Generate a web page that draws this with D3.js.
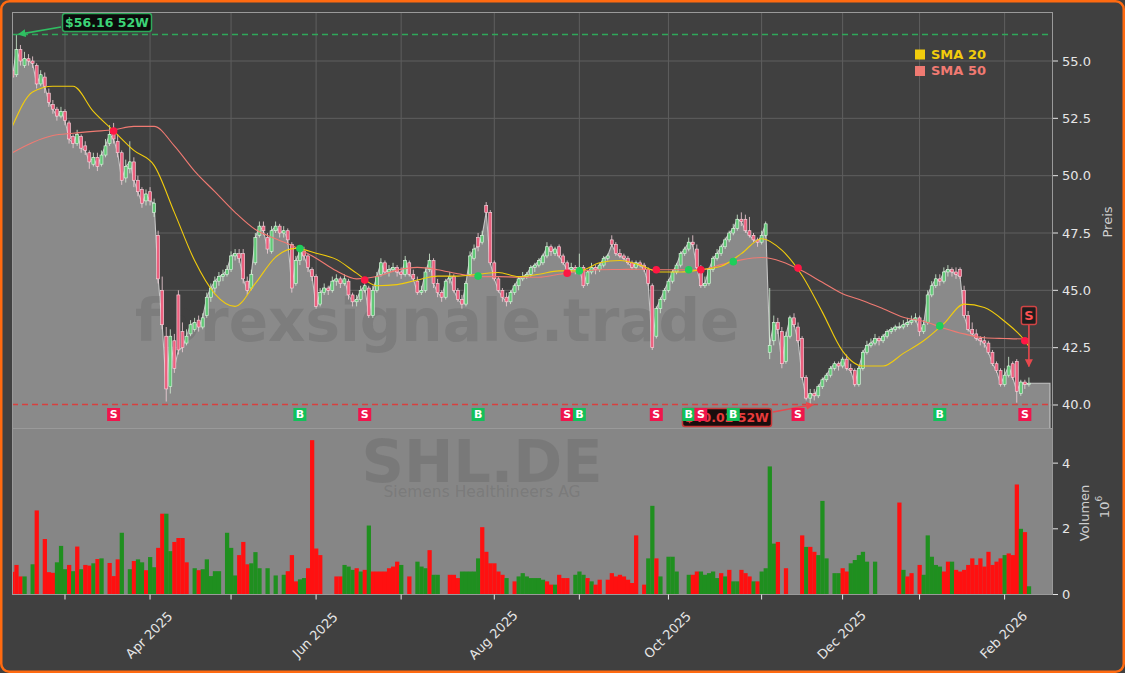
<!DOCTYPE html>
<html><head><meta charset="utf-8">
<script src="https://cdn.jsdelivr.net/npm/d3@7"></script>
<style>
html,body{margin:0;padding:0;background:#404040;}
svg{display:block;font-family:"DejaVu Sans",sans-serif;}
</style></head><body>
<svg id="chart" width="1125" height="673"></svg>
<script>
// ---------------- DATA ----------------
const ticker = "SHL.DE";
const companyName = "Siemens Healthineers AG";
const watermark = "forexsignale.trade";
const startDate = "2025-02-12";
const holidays = ["2025-04-18","2025-04-21","2025-05-01","2025-12-24","2025-12-25","2025-12-26","2025-12-31","2026-01-01"];
const priceTicks = [40.0, 42.5, 45.0, 47.5, 50.0, 52.5, 55.0];
const volumeTicks = [0, 2, 4];
const legendLabels = ["SMA 20", "SMA 50"];

const closes = [54.3,55.5,55.0,55.1,55.0,54.9,54.0,54.4,53.9,53.2,
52.9,52.6,52.8,52.4,51.6,51.4,51.8,51.2,51.1,50.6,
50.8,50.4,50.9,51.3,51.8,51.6,51.0,49.8,50.4,50.6,
49.8,49.3,48.8,49.2,48.9,48.8,45.5,43.5,40.7,43.0,
41.6,42.4,42.5,43.0,43.5,43.6,43.4,43.8,44.7,45.1,
45.4,45.6,45.7,45.9,46.5,46.6,46.4,45.5,45.0,45.7,
47.3,47.8,47.6,46.8,47.6,47.8,47.5,47.6,47.2,45.1,
46.3,46.7,46.5,46.0,45.6,44.3,44.9,45.1,45.0,45.4,
45.5,45.3,45.5,44.8,44.5,44.6,45.0,45.2,43.9,45.0,
45.6,46.2,45.8,45.9,46.0,45.8,45.7,46.3,45.7,45.5,
44.9,45.0,45.8,46.3,45.3,44.9,44.7,45.4,45.6,45.0,
44.6,44.4,45.3,46.5,46.8,46.9,47.4,48.4,46.2,45.5,
45.0,44.7,44.5,44.9,45.2,45.5,45.6,45.7,46.0,46.1,
46.3,46.5,46.9,46.7,46.8,46.5,46.2,45.9,46.0,45.9,
46.0,45.2,45.8,46.0,45.9,46.1,46.4,46.5,47.0,46.6,
46.5,46.4,46.2,46.0,46.2,46.1,45.9,45.3,42.5,44.2,
44.6,45.0,45.4,45.8,46.1,46.6,46.8,47.1,47.0,46.0,
45.2,45.3,45.9,46.4,46.6,46.9,47.2,47.5,47.7,48.1,
48.0,47.6,47.4,47.2,47.1,47.4,47.9,42.6,43.6,43.3,
41.8,43.0,43.8,43.5,42.8,41.2,40.3,40.5,40.4,40.8,
41.1,41.3,41.6,41.8,41.7,42.0,41.6,41.5,40.9,41.6,
42.3,42.6,42.7,42.9,42.8,43.0,43.2,43.3,43.4,43.4,
43.5,43.6,43.7,43.8,43.2,43.5,44.8,45.2,45.5,45.4,
45.8,45.9,45.8,45.7,45.6,43.9,43.3,43.1,42.9,42.8,
42.7,42.3,41.8,41.5,40.9,41.3,41.7,41.2,40.6,41.0,
40.9,40.95];

const opens = [54.6,54.4,55.5,54.8,55.1,55.0,54.8,54.0,54.3,53.6,
53.1,52.9,52.6,52.8,52.3,51.7,51.4,51.7,51.3,51.0,
50.5,50.8,50.5,50.9,51.4,52.0,51.5,51.0,49.9,50.3,
50.6,49.8,49.4,48.9,49.3,48.4,47.4,45.0,43.0,40.8,
42.8,44.8,43.2,42.7,43.1,43.3,43.7,43.4,43.9,44.7,
45.1,45.4,45.6,45.7,45.9,46.5,46.6,46.6,45.4,45.1,
46.2,47.4,47.8,47.3,46.7,47.6,47.8,47.5,47.6,47.0,
45.3,46.3,46.7,46.5,45.9,45.6,44.4,44.9,45.1,45.0,
45.4,45.5,45.3,45.4,44.8,44.5,44.6,45.0,45.1,43.9,
45.0,45.7,46.2,45.8,45.9,46.0,45.8,45.7,46.2,45.7,
45.4,44.9,45.0,45.9,46.3,45.3,44.9,44.7,45.5,45.6,
45.0,44.6,44.4,45.7,46.4,47.3,47.1,48.7,48.4,46.2,
45.5,45.0,44.7,44.5,44.9,45.2,45.5,45.6,45.7,46.0,
46.1,46.2,46.5,46.9,46.6,46.9,46.5,46.2,45.9,46.0,
45.8,46.0,45.3,45.8,46.0,45.9,46.1,46.4,47.2,47.0,
46.6,46.5,46.4,46.2,46.0,46.2,46.1,45.9,45.2,43.0,
44.2,44.6,45.0,45.4,45.8,46.1,46.6,46.8,47.1,46.8,
46.0,45.2,45.3,45.9,46.4,46.6,46.9,47.2,47.5,47.7,
48.1,48.1,47.6,47.4,47.2,47.1,47.4,42.3,42.8,43.6,
43.2,41.9,43.0,43.8,43.4,42.9,41.2,40.3,40.5,40.4,
40.8,41.1,41.3,41.6,41.8,41.7,42.0,41.6,41.5,40.9,
41.6,42.3,42.6,42.7,42.9,42.8,43.0,43.2,43.3,43.4,
43.4,43.5,43.6,43.7,43.8,43.2,43.6,44.8,45.2,45.5,
45.4,45.8,45.9,45.8,45.9,45.0,43.9,43.3,43.1,42.9,
42.8,42.7,42.3,41.8,41.5,40.9,41.3,41.8,41.9,40.5,
41.0,40.9];

const highs = [54.9,56.16,55.7,55.4,55.3,55.2,54.9,54.6,54.5,53.8,
53.3,53.0,53.0,52.9,52.4,51.8,52.0,51.8,51.5,51.1,
51.0,51.0,51.1,51.6,52.2,52.3,51.8,51.1,50.7,51.5,
50.8,50.0,49.5,49.4,49.5,49.0,47.6,45.6,43.4,43.3,
43.1,45.0,43.6,43.3,43.7,43.8,43.9,44.0,44.9,45.3,
45.6,45.8,45.9,46.1,46.7,46.8,46.8,46.8,45.6,45.9,
47.5,48.0,48.0,47.5,47.8,48.0,47.9,47.8,47.7,47.1,
46.5,46.9,46.9,46.6,46.0,45.7,45.1,45.3,45.2,45.6,
45.7,45.6,45.7,45.5,44.9,44.8,45.2,45.4,45.2,45.2,
45.8,46.4,46.3,46.1,46.2,46.1,46.0,46.5,46.3,45.9,
45.6,45.2,46.0,46.6,46.4,45.5,45.0,45.5,45.8,45.7,
45.1,44.8,45.4,46.7,47.0,47.5,47.6,48.85,48.5,46.3,
45.6,45.1,44.9,45.0,45.3,45.6,45.8,45.8,46.1,46.2,
46.4,46.6,47.1,47.0,46.9,47.0,46.6,46.3,46.2,46.1,
46.6,46.1,45.9,46.2,46.1,46.2,46.5,46.6,47.4,47.1,
46.8,46.6,46.5,46.3,46.3,46.3,46.2,46.0,45.3,44.3,
44.7,45.1,45.5,45.9,46.2,46.7,46.9,47.3,47.4,47.0,
46.1,45.6,46.0,46.5,46.8,47.0,47.3,47.6,47.9,48.3,
48.4,48.3,48.2,47.5,47.3,47.6,48.0,45.1,43.9,43.8,
43.4,43.2,43.9,44.0,43.6,43.0,41.3,40.7,40.7,40.9,
41.2,41.4,41.7,41.9,41.9,42.1,42.2,41.8,41.6,41.7,
42.4,42.8,42.9,43.1,43.0,43.1,43.3,43.4,43.5,43.6,
43.7,43.8,43.9,44.0,43.9,43.7,45.0,45.4,45.7,45.7,
46.0,46.1,46.0,46.0,46.0,45.2,44.1,43.6,43.3,43.0,
43.0,42.8,42.4,41.9,41.6,41.6,42.1,41.9,42.0,41.1,
41.1,41.2];

const lows = [54.1,54.3,54.8,54.7,54.8,54.7,53.8,53.9,53.6,53.0,
52.7,52.4,52.5,52.2,51.4,51.2,51.3,51.0,50.9,50.3,
50.4,50.2,50.4,50.8,51.3,51.4,50.8,49.6,49.7,50.1,
49.5,49.1,48.6,48.7,48.7,48.2,45.3,43.3,40.15,40.5,
41.4,42.2,42.3,42.6,43.0,43.2,43.2,43.3,43.8,44.5,
44.9,45.2,45.4,45.6,45.8,46.3,46.2,45.3,44.8,45.0,
46.1,47.3,47.4,46.6,46.6,47.5,47.3,47.3,47.0,44.9,
45.2,46.1,46.3,45.8,45.4,44.2,44.3,44.8,44.8,44.9,
45.2,45.1,45.2,44.6,44.3,44.3,44.5,44.9,43.8,43.8,
44.9,45.6,45.7,45.6,45.8,45.6,45.5,45.6,45.6,45.4,
44.8,44.8,44.9,45.8,45.1,44.7,44.5,44.6,45.3,44.9,
44.5,44.2,44.3,45.6,46.3,46.7,47.0,48.3,46.1,45.4,
44.9,44.5,44.3,44.4,44.8,45.0,45.4,45.5,45.6,45.8,
46.0,46.1,46.4,46.5,46.5,46.4,46.1,45.8,45.8,45.7,
45.7,45.1,45.2,45.7,45.7,45.8,46.0,46.3,46.9,46.5,
46.4,46.3,46.1,45.9,45.9,46.0,45.8,45.2,42.4,42.9,
44.0,44.5,44.9,45.3,45.7,46.0,46.5,46.7,46.9,45.9,
45.1,45.1,45.2,45.8,46.3,46.5,46.8,47.1,47.4,47.6,
47.8,47.5,47.3,47.1,46.9,47.0,47.3,42.0,42.6,43.1,
41.6,41.8,42.9,43.4,42.7,41.1,40.2,40.02,40.2,40.3,
40.7,41.0,41.2,41.5,41.5,41.6,41.5,41.4,40.8,40.8,
41.5,42.2,42.5,42.6,42.6,42.7,42.9,43.1,43.2,43.3,
43.3,43.4,43.5,43.6,43.0,43.1,43.5,44.7,45.1,45.2,
45.3,45.6,45.6,45.5,45.5,43.8,43.2,43.0,42.8,42.6,
42.5,42.2,41.7,41.4,40.8,40.8,41.2,41.1,40.1,40.4,
40.7,40.8];

// volume in millions, direction: r = down (red), g = up (green), - = none
const volumes = [0.69,0.9,0.55,0.55,0,0.92,2.56,0,1.69,0.68,
0.66,0.98,1.48,0.77,0.9,0.71,1.46,0.77,0.9,0.88,
0.95,1.08,1.1,0,0.96,0.56,1.07,1.88,0,0.77,
1.02,1.07,0.98,0.74,1.14,0.83,1.42,2.46,2.46,1.32,
1.6,1.72,1.72,0.98,0,0.8,0.74,0.77,1.07,0.56,
0.71,0.71,0,1.88,1.42,0.58,1.2,1.6,0.92,0.95,
1.29,0.8,0,0.8,0,0.58,0,0.6,0.71,1.2,
0.4,0.46,0.5,0.8,4.7,1.4,1.2,0,0,0,
0.55,0.55,0.9,0.85,0.75,0.8,0.7,0.75,2.1,0.7,
0.7,0.7,0.7,0.8,0.85,1.0,0.9,0,0.55,0,
1.0,0.85,0.8,1.35,0.6,0.6,0,0,0.6,0.6,
0.5,0.7,0.7,0.7,0.7,1.1,2.05,1.3,0.95,0.95,
0.7,0.6,0.5,0,0.4,0.55,0.65,0.55,0.5,0.5,
0.5,0.45,0.4,0.3,0.3,0.6,0.5,0.5,0,0.6,
0.7,0.6,0.5,0.4,0.3,0.45,0,0.45,0.65,0.55,
0.6,0.55,0.45,0.35,1.8,0,0.3,1.1,2.7,1.1,
0.55,0,1.15,1.15,0.7,0,0,0.6,0.6,0.7,
0.7,0.6,0.65,0.7,0.5,0.65,0.55,0.75,0.4,0.4,
0.75,0.65,0.55,0.4,0.4,0.7,0.8,3.9,1.55,1.6,
0,0.8,0,0,0,1.8,1.45,1.45,1.3,1.2,
2.85,1.1,0,0.65,0.65,0.8,0.7,0.95,1.05,1.2,
1.3,1.0,0,1.0,0,0,0,0,0,2.8,
0.75,0.55,0.65,0,0.9,0.6,1.8,1.15,0.9,0.85,
0.7,1.0,1.0,0.75,0.7,0.75,0.9,1.1,0.9,1.1,
0.85,1.3,0.9,1.0,1.1,1.2,1.25,1.2,3.35,2.0,
1.9,0.25];
const volumeDir =
 "rrrg-gr-rr"+"rgggrgrgrr"+"grg-rrrg-g"+"rggrggrrgg"+"rrrr-grggg"+
 "gg-gggrrrg"+"gg-g-g-grr"+"rggrrrr---"+"rrgggrgrgr"+"rrrrrrg-r-"+
 "gggrgg--rr"+"rgggggrrrr"+"rrg-rggggg"+"ggrrgrrr-g"+"ggrgrr-rrr"+
 "rrrrr-rggr"+"g-ggg--grr"+"gggggrgrgg"+"rrrgrggggr"+"-r---rgrrg"+
 "gg-ggrrggg"+"gg-g-----r"+"grr-rggggg"+"rrgrrrrrrr"+"rrrrrgrrrg"+"rg";

// SMA values at every 5th trading day (index), plus last day
const smaIndex = [0,5,10,15,20,25,30,35,40,45,50,55,60,65,70,75,80,85,90,95,100,105,110,115,120,125,130,135,140,145,150,155,160,165,170,175,180,185,190,195,200,205,210,215,220,225,230,235,240,245,250,251];
const sma20 = [52.15,53.65,53.9,53.9,52.8,51.95,51.1,50.45,48.4,46.3,44.85,44.3,45.3,46.45,46.83,46.62,46.35,45.75,45.2,45.25,45.45,45.62,45.62,45.7,45.78,45.6,45.7,45.85,45.85,46.2,46.3,46.1,45.8,45.8,45.9,46.05,46.6,47.25,46.75,45.65,44.05,42.35,41.7,41.7,42.25,42.8,43.55,44.4,44.25,43.65,42.8,42.55];
const sma50 = [51.0,51.45,51.75,51.85,51.93,52.0,52.15,52.15,51.3,50.2,49.3,48.4,47.65,47.25,46.87,46.4,45.85,45.5,45.6,45.88,46.0,45.9,45.72,45.6,45.6,45.57,45.57,45.7,45.82,45.9,45.91,45.92,45.9,45.9,45.9,46.12,46.33,46.43,46.25,45.85,45.35,44.85,44.55,44.2,43.83,43.65,43.35,43.1,42.93,42.9,42.88,42.88];

// crossover signals (trading-day index, type, price at crossing)
const signalIndex = [25,71,87,115,137,140,159,167,170,178,194,229,250];
const signalType  = ["S","B","S","B","S","B","S","B","S","B","S","B","S"];
const signalPrice = [51.95,46.82,45.45,45.62,45.75,45.85,45.9,45.9,45.9,46.25,45.97,43.45,42.8];
const finalSignal = "S";

// ---------------- LAYOUT ----------------
const W = 1125, H = 673;
const left = 12, right = 1053, pTop = 12, pBot = 428, vTop = 428, vBot = 594.5;
const svg = d3.select("#chart");
const N = closes.length;

function tradingDates(start, n, hol){
  const out=[]; const d=new Date(start+"T12:00:00Z");
  while(out.length<n){
    const wd=d.getUTCDay(); const s=d.toISOString().slice(0,10);
    if(wd!==0 && wd!==6 && !hol.includes(s)) out.push(new Date(d));
    d.setUTCDate(d.getUTCDate()+1);
  }
  return out;
}
const dates = tradingDates(startDate, N, holidays);

const x = d3.scaleLinear().domain([-0.086, 256.95]).range([left, right]);
const y = d3.scaleLinear().domain([38.997, 57.137]).range([pBot, pTop]);
const yv = d3.scaleLinear().domain([0, 5.07]).range([vBot, vTop]);

const defs = svg.append("defs");
defs.append("clipPath").attr("id","pclip").append("rect").attr("x",left).attr("y",pTop).attr("width",right-left).attr("height",pBot-pTop);
defs.append("clipPath").attr("id","vclip").append("rect").attr("x",left).attr("y",vTop).attr("width",right-left).attr("height",vBot-vTop);
function arrowMarker(id,color){
  defs.append("marker").attr("id",id).attr("viewBox","0 0 10 10").attr("refX",9).attr("refY",5)
    .attr("markerWidth",5).attr("markerHeight",5).attr("orient","auto-start-reverse")
    .append("path").attr("d","M0,0 L10,5 L0,10 z").attr("fill",color);
}
arrowMarker("arrG","#2fbf62");
arrowMarker("arrR","#e8484d");

svg.append("rect").attr("width",W).attr("height",H).attr("fill","#404040");

const monthTicks = [];
for(let i=1;i<N;i++){ if(dates[i].getUTCMonth()!==dates[i-1].getUTCMonth()) monthTicks.push(i); }

// ---------------- PRICE PANEL ----------------
const pg = svg.append("g").attr("clip-path","url(#pclip)");
pg.selectAll(".hg").data(priceTicks).join("line")
  .attr("x1",left).attr("x2",right).attr("y1",d=>y(d)).attr("y2",d=>y(d))
  .attr("stroke","#5e5e5e").attr("stroke-width",1);
pg.selectAll(".vg").data(monthTicks).join("line")
  .attr("x1",d=>x(d)).attr("x2",d=>x(d)).attr("y1",pTop).attr("y2",pBot)
  .attr("stroke","#5e5e5e").attr("stroke-width",1);

const areaPts = closes.map((c,i)=>[i,c]);
areaPts.push([x.domain()[1]-0.75, closes[N-1]]);
pg.append("path").datum(areaPts)
  .attr("d", d3.area().x(d=>x(d[0])).y0(pBot).y1(d=>y(d[1])))
  .attr("fill","#8a8a8a");
pg.append("path").datum(areaPts.concat([[x.domain()[1]-0.75, 38.997]]))
  .attr("d", d3.line().x(d=>x(d[0])).y(d=>y(d[1])))
  .attr("fill","none").attr("stroke","#c4c4c4").attr("stroke-width",1.1);

pg.append("text").attr("x",135).attr("y",341).attr("text-anchor","start")
  .attr("font-size",58).attr("font-weight","bold").attr("fill","rgba(64,64,64,0.18)").text(watermark);

// candles
const cg = pg.append("g");
const cand = cg.selectAll("g").data(closes).join("g");
cand.append("line").attr("x1",(d,i)=>x(i)).attr("x2",(d,i)=>x(i))
  .attr("y1",(d,i)=>y(highs[i])).attr("y2",(d,i)=>y(lows[i]))
  .attr("stroke",(d,i)=>closes[i]>=opens[i]?"#d4f2d6":"#f4d2da").attr("stroke-width",0.8);
cand.append("rect").attr("x",(d,i)=>x(i)-1.5).attr("width",3)
  .attr("y",(d,i)=>y(Math.max(opens[i],closes[i])))
  .attr("height",(d,i)=>Math.max(0.8, Math.abs(y(opens[i])-y(closes[i]))))
  .attr("fill",(d,i)=>closes[i]>=opens[i]?"#62c877":"#ec5f7e")
  .attr("stroke",(d,i)=>closes[i]>=opens[i]?"#e2f7e5":"#fbdbe2").attr("stroke-width",0.6);

const smaLine = d3.line().x(d=>x(d[0])).y(d=>y(d[1])).curve(d3.curveMonotoneX);
pg.append("path").datum(smaIndex.map((k,j)=>[k,sma50[j]])).attr("d",smaLine)
  .attr("fill","none").attr("stroke","#f07a72").attr("stroke-width",1.1);
pg.append("path").datum(smaIndex.map((k,j)=>[k,sma20[j]])).attr("d",smaLine)
  .attr("fill","none").attr("stroke","#f2cc0c").attr("stroke-width",1.1);

const hi52 = d3.max(highs), lo52 = d3.min(lows);
const hiIdx = highs.indexOf(hi52), loIdx = lows.indexOf(lo52);
pg.append("line").attr("x1",left).attr("x2",right).attr("y1",y(hi52)).attr("y2",y(hi52))
  .attr("stroke","#2fa85a").attr("stroke-width",1.5).attr("stroke-dasharray","6,4");
pg.append("line").attr("x1",left).attr("x2",right).attr("y1",y(lo52)).attr("y2",y(lo52))
  .attr("stroke","#d8403f").attr("stroke-width",1.5).attr("stroke-dasharray","6,4");

pg.selectAll(".dot").data(signalIndex).join("circle")
  .attr("cx",d=>x(d)).attr("cy",(d,j)=>y(signalPrice[j])).attr("r",3.8)
  .attr("fill",(d,j)=>signalType[j]==="S"?"#ff1744":"#1ecf5a");

const hg = svg.append("g");
hg.append("line").attr("x1",61).attr("y1",27).attr("x2",x(hiIdx)+2).attr("y2",y(hi52))
  .attr("stroke","#2fbf62").attr("stroke-width",1.6).attr("marker-end","url(#arrG)");
hg.append("rect").attr("x",62.5).attr("y",13.5).attr("width",89).attr("height",18).attr("rx",2.5)
  .attr("fill","#0c0c0c").attr("stroke","#2fa85a").attr("stroke-width",1.5);
hg.append("text").attr("x",107).attr("y",22.7).attr("text-anchor","middle").attr("dominant-baseline","central")
  .attr("font-size",12.5).attr("font-weight","bold").attr("fill","#3cd377").text("$"+hi52.toFixed(2)+" 52W");

const lg = svg.append("g");
lg.append("line").attr("x1",773).attr("y1",412).attr("x2",x(loIdx)+3).attr("y2",y(lo52))
  .attr("stroke","#e8484d").attr("stroke-width",1.6).attr("marker-end","url(#arrR)");
lg.append("rect").attr("x",682.5).attr("y",408.5).attr("width",89).attr("height",18).attr("rx",2.5)
  .attr("fill","#1a0d0d").attr("stroke","#c83a3a").attr("stroke-width",1.5);
lg.append("text").attr("x",727).attr("y",417.7).attr("text-anchor","middle").attr("dominant-baseline","central")
  .attr("font-size",12.5).attr("font-weight","bold").attr("fill","#e63b3b").text("$"+lo52.toFixed(2)+" 52W");

const mg = svg.append("g");
signalIndex.forEach((k,j)=>{
  const cx = x(k);
  mg.append("rect").attr("x",cx-6.5).attr("y",408).attr("width",13).attr("height",13)
    .attr("fill",signalType[j]==="S"?"#f0154c":"#12c15a");
  mg.append("text").attr("x",cx).attr("y",414.8).attr("text-anchor","middle").attr("dominant-baseline","central")
    .attr("font-size",11).attr("font-weight","bold").attr("fill","#ffffff").text(signalType[j]);
});

const fx = x(N-1);
const tipY = y(highs[N-1]) - 11;
svg.append("line").attr("x1",fx).attr("x2",fx).attr("y1",tipY-42).attr("y2",tipY)
  .attr("stroke","#e8484d").attr("stroke-width",1.6).attr("marker-end","url(#arrR)");
svg.append("rect").attr("x",fx-7.5).attr("y",tipY-60).attr("width",15).attr("height",18).attr("rx",2)
  .attr("fill","#1e1e1e").attr("stroke","#d04444").attr("stroke-width",1.5);
svg.append("text").attr("x",fx).attr("y",tipY-51).attr("text-anchor","middle").attr("dominant-baseline","central")
  .attr("font-size",13).attr("font-weight","bold").attr("fill","#ff5252").text(finalSignal);

// ---------------- VOLUME PANEL ----------------
const vg = svg.append("g").attr("clip-path","url(#vclip)");
vg.append("rect").attr("x",left).attr("y",vTop).attr("width",right-left).attr("height",vBot-vTop).attr("fill","#868686");
const bw = x(1)-x(0);
vg.selectAll(".vb").data(volumes).join("rect")
  .attr("x",(d,i)=>x(i)-bw/2).attr("width",bw+0.2)
  .attr("y",d=>yv(d)).attr("height",d=>vBot-yv(d))
  .attr("fill",(d,i)=>volumeDir[i]==="g"?"#1f8f1f":"#ff1010")
  .attr("display",(d,i)=>(d>0 && volumeDir[i]!=="-")?null:"none");
vg.append("text").attr("x",482).attr("y",482).attr("text-anchor","middle")
  .attr("font-size",59).attr("font-weight","bold").attr("fill","rgba(64,64,64,0.18)").text(ticker);
vg.append("text").attr("x",482).attr("y",497).attr("text-anchor","middle")
  .attr("font-size",15.5).attr("fill","rgba(64,64,64,0.18)").text(companyName);

// ---------------- FRAMES & AXES ----------------
const fr = svg.append("g").attr("fill","none").attr("stroke","#9a9a9a").attr("stroke-width",1);
fr.append("rect").attr("x",left+0.5).attr("y",pTop+0.5).attr("width",right-left-1).attr("height",pBot-pTop);
fr.append("rect").attr("x",left+0.5).attr("y",vTop+0.5).attr("width",right-left-1).attr("height",vBot-vTop-0.5);

const ax = svg.append("g").attr("font-size",13).attr("fill","#e6e6e6");
priceTicks.forEach(t=>{
  ax.append("line").attr("x1",right).attr("x2",right+5).attr("y1",y(t)).attr("y2",y(t)).attr("stroke","#e6e6e6");
  ax.append("text").attr("x",right+9).attr("y",y(t)).attr("dominant-baseline","central").text(t.toFixed(1));
});
volumeTicks.forEach(t=>{
  ax.append("line").attr("x1",right).attr("x2",right+5).attr("y1",yv(t)).attr("y2",yv(t)).attr("stroke","#e6e6e6");
  ax.append("text").attr("x",right+9).attr("y",yv(t)).attr("dominant-baseline","central").text(t);
});
ax.append("text").attr("transform","translate(1107,222) rotate(-90)").attr("text-anchor","middle")
  .attr("dominant-baseline","central").attr("fill","#cfcfcf").text("Preis");
ax.append("text").attr("transform","translate(1084,513) rotate(-90)").attr("text-anchor","middle")
  .attr("dominant-baseline","central").attr("fill","#cfcfcf").text("Volumen");
const ex = ax.append("text").attr("transform","translate(1104,507) rotate(-90)").attr("text-anchor","middle")
  .attr("dominant-baseline","central").attr("fill","#cfcfcf");
ex.append("tspan").text("10");
ex.append("tspan").attr("font-size",9).attr("dy",-5).text("6");

const fmt = d3.utcFormat("%b %Y");
monthTicks.forEach(k=>{
  ax.append("line").attr("x1",x(k)).attr("x2",x(k)).attr("y1",vBot).attr("y2",vBot+5).attr("stroke","#e6e6e6");
  if(dates[k].getUTCMonth()%2===1){
    ax.append("text").attr("transform",`translate(${x(k)-1},635) rotate(-45)`).attr("text-anchor","middle")
      .attr("dominant-baseline","central").text(fmt(dates[k]));
  }
});

const colors = ["#f2cc0c","#f07a72"];
legendLabels.forEach((t,j)=>{
  svg.append("rect").attr("x",915).attr("y",49.5+j*16.5).attr("width",10).attr("height",10).attr("fill",colors[j]);
  svg.append("text").attr("x",931).attr("y",58.5+j*16.5).attr("font-size",13).attr("font-weight","bold")
    .attr("fill",colors[j]).text(t);
});

svg.append("rect").attr("x",1.25).attr("y",1.25).attr("width",W-2.5).attr("height",H-2.5).attr("rx",8)
  .attr("fill","none").attr("stroke","#ff6a10").attr("stroke-width",2.5);
</script>
</body></html>
